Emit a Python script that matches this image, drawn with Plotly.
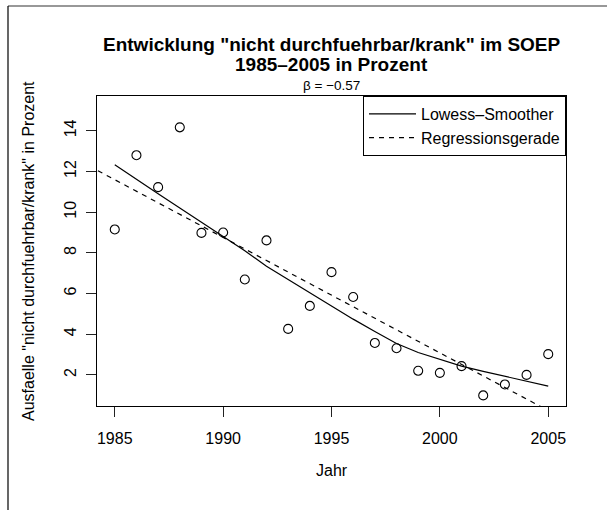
import numpy as np
import plotly.graph_objects as go

# ---- data ----
years = [1985, 1986, 1987, 1988, 1989, 1990, 1991, 1992, 1993, 1994, 1995,
         1996, 1997, 1998, 1999, 2000, 2001, 2002, 2003, 2004, 2005]
ausfaelle = [9.15, 12.8, 11.23, 14.17, 8.98, 9.0, 6.69, 8.61, 4.26, 5.39, 7.05,
             5.83, 3.57, 3.31, 2.2, 2.1, 2.43, 0.99, 1.53, 2.0, 3.02]
lowess_values = [12.33, 11.6, 10.9, 10.2, 9.5, 8.84, 8.1, 7.34, 6.69, 6.03, 5.38,
                 4.74, 4.13, 3.54, 3.10, 2.76, 2.43, 2.17, 1.92, 1.68, 1.45]
x_ticks = [1985, 1990, 1995, 2000, 2005]
y_ticks = [2, 4, 6, 8, 10, 12, 14]

title_line1 = 'Entwicklung "nicht durchfuehrbar/krank" im SOEP'
title_line2 = '1985–2005 in Prozent'
beta_label = 'β = −0.57'
x_label = 'Jahr'
y_label = 'Ausfaelle "nicht durchfuehrbar/krank" in Prozent'

# regression line (lm) computed from the data
slope, intercept = np.polyfit(years, ausfaelle, 1)
reg_x = [1983.0, 2007.0]
reg_y = [intercept + slope * v for v in reg_x]

FONT = "Liberation Sans, Arial, Helvetica, sans-serif"

fig = go.Figure()
fig.add_trace(go.Scatter(
    x=years, y=ausfaelle, mode="markers", showlegend=False,
    marker=dict(symbol="circle-open", size=9, color="black", line=dict(width=1.1, color="black")),
))
fig.add_trace(go.Scatter(
    x=years, y=lowess_values, mode="lines", name="Lowess–Smoother",
    line=dict(color="black", width=1.2),
))
fig.add_trace(go.Scatter(
    x=reg_x, y=reg_y, mode="lines", name="Regressionsgerade",
    line=dict(color="black", width=1.2, dash="5px,5px"),
))

L, R, T, B = 97, 41, 96, 104
W, H = 607, 510
ph = H - T - B
pw = W - L - R

def py(pix):
    return (H - B - pix) / ph

def px(pix):
    return (pix - L) / pw

annotations = [
    dict(text="<b>" + title_line1 + "</b>", x=0.5, y=py(44), xref="paper", yref="paper",
         showarrow=False, font=dict(size=19, color="black", family=FONT), yanchor="middle"),
    dict(text="<b>" + title_line2 + "</b>", x=0.5, y=py(64.5), xref="paper", yref="paper",
         showarrow=False, font=dict(size=19, color="black", family=FONT), yanchor="middle"),
    dict(text=beta_label, x=0.5, y=py(85.5), xref="paper", yref="paper",
         showarrow=False, font=dict(size=13.5, color="black", family=FONT), yanchor="middle"),
    dict(text=x_label, x=0.5, y=py(470), xref="paper", yref="paper",
         showarrow=False, font=dict(size=16, color="black", family=FONT), yanchor="middle"),
    dict(text=y_label, x=px(28), y=0.5, xref="paper", yref="paper", textangle=-90,
         showarrow=False, font=dict(size=16, color="black", family=FONT), xanchor="center", yanchor="middle"),
]

shapes = [
    dict(type="line", xref="paper", yref="paper", x0=px(8), x1=px(620), y0=py(6), y1=py(6),
         line=dict(color="#333333", width=1.2)),
    dict(type="line", xref="paper", yref="paper", x0=px(8), x1=px(8), y0=py(6), y1=py(520),
         line=dict(color="black", width=1.2)),
]

fig.update_layout(
    width=W, height=H,
    margin=dict(l=L, r=R, t=T, b=B, pad=0),
    paper_bgcolor="white", plot_bgcolor="white",
    font=dict(family=FONT, size=16, color="black"),
    showlegend=True,
    legend=dict(x=1, y=1, xanchor="right", yanchor="top", bgcolor="white",
                bordercolor="black", borderwidth=1, font=dict(size=16, family=FONT, color="black"),
                itemwidth=47, tracegroupgap=0),
    annotations=annotations,
    shapes=shapes,
)
fig.update_xaxes(range=[1984.18, 2005.82], tickvals=x_ticks, ticks="outside", ticklen=10,
                 tickwidth=1, tickcolor="#222", showline=True, linecolor="black", linewidth=1,
                 mirror=True, showgrid=False, zeroline=False, ticklabelstandoff=8,
                 tickfont=dict(size=16, family=FONT, color="black"))
fig.update_yaxes(range=[0.47, 15.71], tickvals=y_ticks, ticks="outside", ticklen=10,
                 tickwidth=1, tickcolor="#222", showline=True, linecolor="black", linewidth=1,
                 mirror=True, showgrid=False, zeroline=False, tickangle=-90, ticklabelstandoff=4,
                 tickfont=dict(size=16, family=FONT, color="black"))

fig.write_html("out.html", config={"displayModeBar": False},
               post_script="document.body.style.margin='0';")
